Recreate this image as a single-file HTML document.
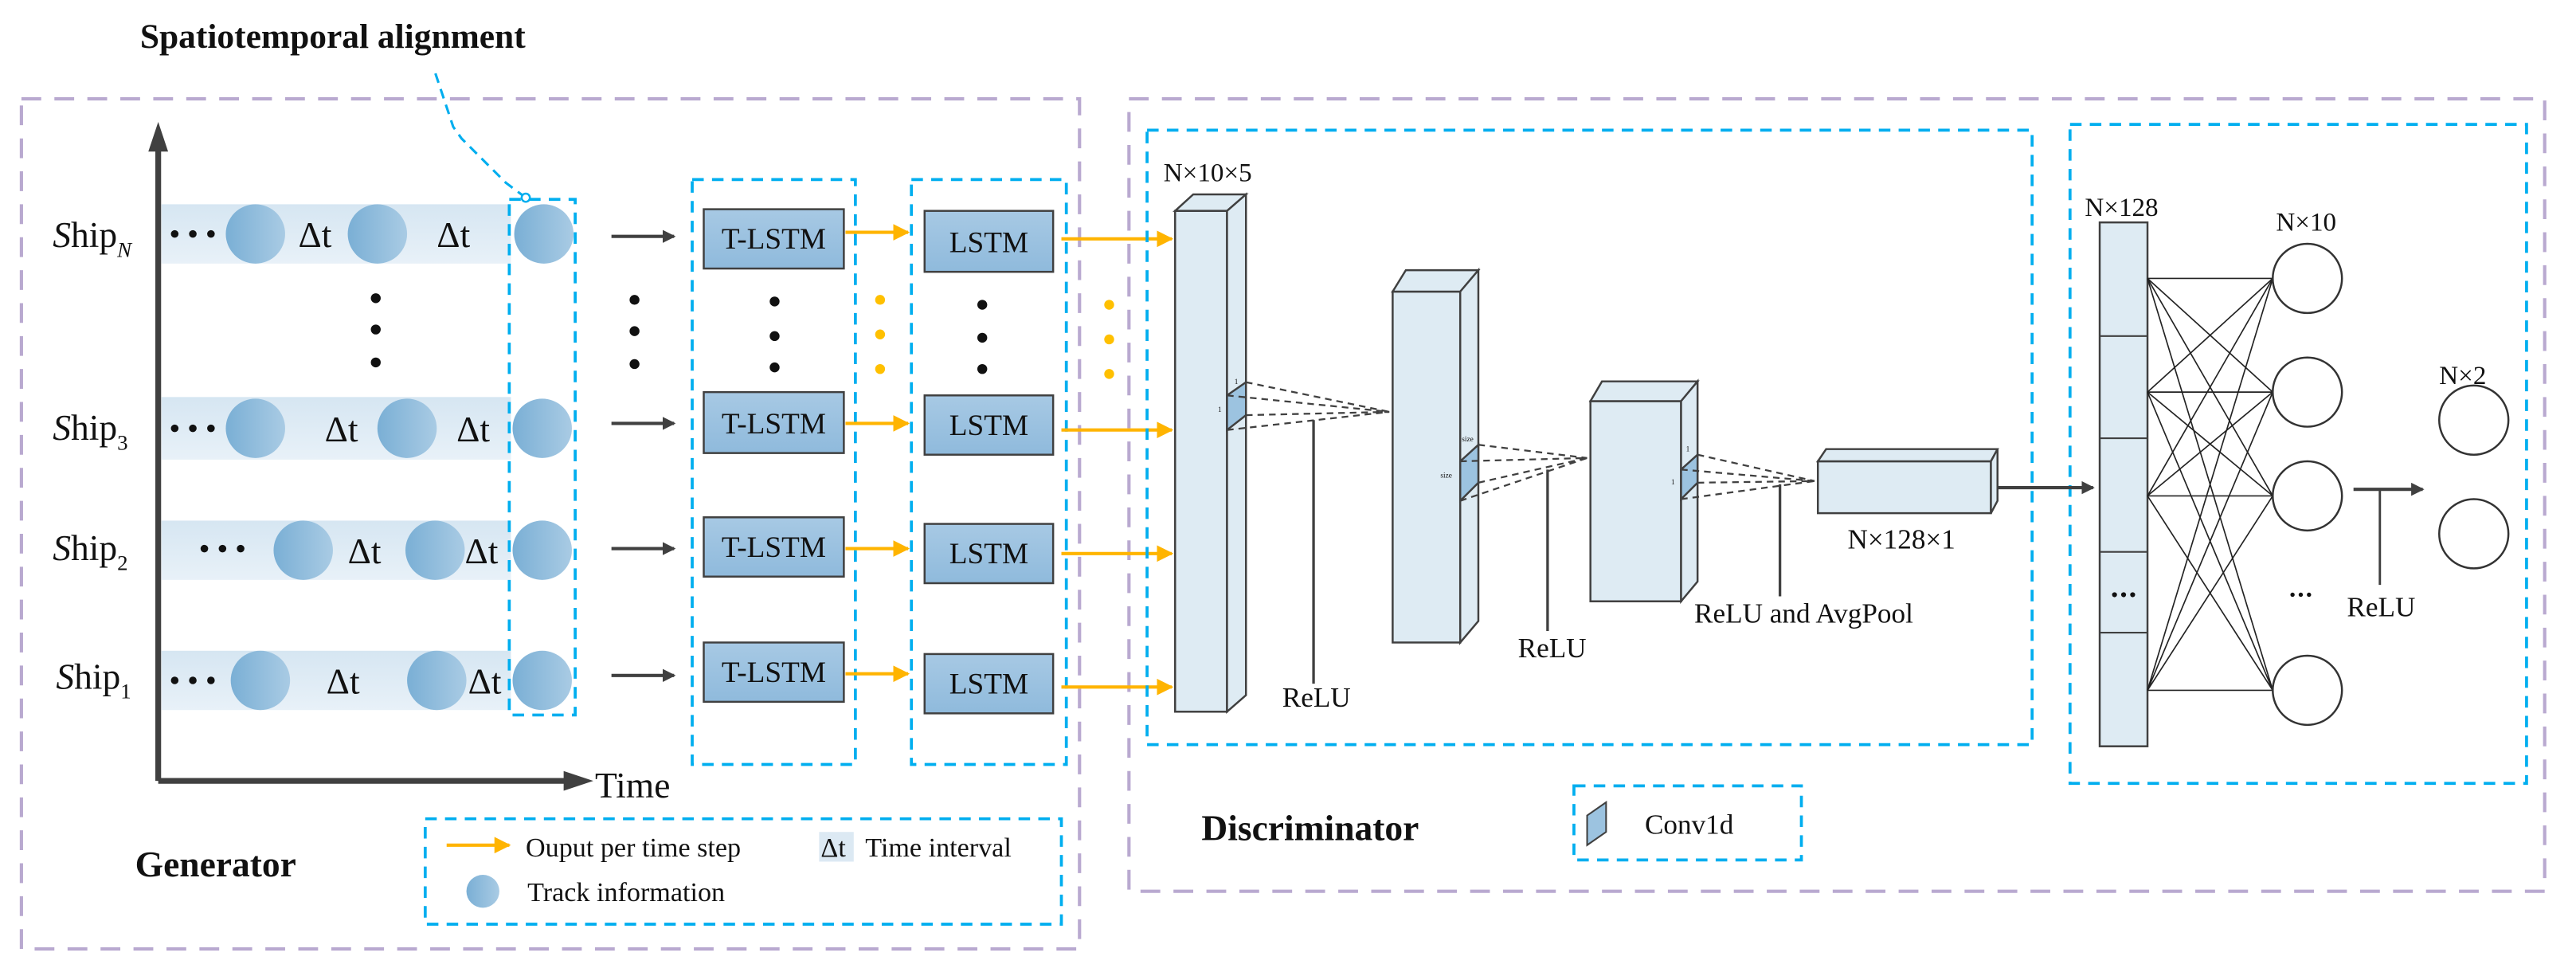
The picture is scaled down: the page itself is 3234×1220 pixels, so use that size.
<!DOCTYPE html>
<html><head><meta charset="utf-8"><style>
html,body{margin:0;padding:0;background:#fff;}
svg{display:block;}
text{font-family:"Liberation Serif",serif;fill:#111;}
</style></head><body>
<svg width="3234" height="1220" viewBox="0 0 1563 590" preserveAspectRatio="none" xmlns="http://www.w3.org/2000/svg">
<defs>
<linearGradient id="cg" x1="0" x2="1" y1="0" y2="0"><stop offset="0" stop-color="#7aafd5"/><stop offset="1" stop-color="#a9cbe4"/></linearGradient>
<linearGradient id="bg" x1="0" x2="0" y1="0" y2="1"><stop offset="0" stop-color="#a7c9e4"/><stop offset="1" stop-color="#8fbadc"/></linearGradient>
<linearGradient id="band" x1="0" x2="0" y1="0" y2="1"><stop offset="0" stop-color="#d6e6f2"/><stop offset="1" stop-color="#e8f1f8"/></linearGradient>
<marker id="ad" markerWidth="8" markerHeight="8" refX="7" refY="4" orient="auto" markerUnits="userSpaceOnUse"><path d="M0,0 L8,4 L0,8 z" fill="#404040"/></marker>
<marker id="ay" markerWidth="10" markerHeight="10" refX="9" refY="5" orient="auto" markerUnits="userSpaceOnUse"><path d="M0,0 L10,5 L0,10 z" fill="#ffb400"/></marker>
</defs>

<text x="85" y="29" font-size="21" font-weight="bold">Spatiotemporal alignment</text>

<!-- purple boxes -->
<rect x="13" y="60" width="642" height="516" fill="none" stroke="#b9a9d0" stroke-width="2" stroke-dasharray="12 8"/>
<rect x="685" y="60" width="859" height="481" fill="none" stroke="#b9a9d0" stroke-width="2" stroke-dasharray="12 8"/>

<!-- bands -->
<rect x="98" y="124" width="212" height="36" fill="url(#band)"/>
<rect x="98" y="241" width="212" height="38" fill="url(#band)"/>
<rect x="98" y="316" width="212" height="36" fill="url(#band)"/>
<rect x="98" y="395" width="212" height="36" fill="url(#band)"/>

<!-- axes -->
<line x1="96" y1="474" x2="96" y2="88" stroke="#404040" stroke-width="3.5"/>
<path d="M96,74 L90,92 L102,92 z" fill="#404040"/>
<line x1="96" y1="474" x2="346" y2="474" stroke="#404040" stroke-width="3.5"/>
<path d="M360,474 L342,468 L342,480 z" fill="#404040"/>
<text x="361" y="484" font-size="22">Time</text>

<!-- ship labels -->
<g font-size="22">
<text x="32" y="150"><tspan font-style="italic">S</tspan>hip<tspan font-size="13" dy="6" font-style="italic">N</tspan></text>
<text x="32" y="267"><tspan font-style="italic">S</tspan>hip<tspan font-size="13" dy="6">3</tspan></text>
<text x="32" y="340"><tspan font-style="italic">S</tspan>hip<tspan font-size="13" dy="6">2</tspan></text>
<text x="34" y="418"><tspan font-style="italic">S</tspan>hip<tspan font-size="13" dy="6">1</tspan></text>
</g>
<!-- dots -->
<g fill="#111">
<circle cx="106" cy="142" r="2.3"/><circle cx="117" cy="142" r="2.3"/><circle cx="128" cy="142" r="2.3"/>
<circle cx="106" cy="260" r="2.3"/><circle cx="117" cy="260" r="2.3"/><circle cx="128" cy="260" r="2.3"/>
<circle cx="124" cy="333" r="2.3"/><circle cx="135" cy="333" r="2.3"/><circle cx="146" cy="333" r="2.3"/>
<circle cx="106" cy="413" r="2.3"/><circle cx="117" cy="413" r="2.3"/><circle cx="128" cy="413" r="2.3"/>
<circle cx="228" cy="181" r="3"/><circle cx="228" cy="200" r="3"/><circle cx="228" cy="220" r="3"/>
<circle cx="385" cy="182" r="3"/><circle cx="385" cy="201" r="3"/><circle cx="385" cy="221" r="3"/>
<circle cx="470" cy="183" r="3"/><circle cx="470" cy="204" r="3"/><circle cx="470" cy="223" r="3"/>
<circle cx="596" cy="185" r="3"/><circle cx="596" cy="205" r="3"/><circle cx="596" cy="224" r="3"/>
</g>
<g fill="#ffc000">
<circle cx="534" cy="182" r="3"/><circle cx="534" cy="203" r="3"/><circle cx="534" cy="224" r="3"/>
<circle cx="673" cy="185" r="3"/><circle cx="673" cy="206" r="3"/><circle cx="673" cy="227" r="3"/>
</g>

<!-- circles -->
<g fill="url(#cg)">
<circle cx="155" cy="142" r="18"/><circle cx="229" cy="142" r="18"/><circle cx="330" cy="142" r="18"/>
<circle cx="155" cy="260" r="18"/><circle cx="247" cy="260" r="18"/><circle cx="329" cy="260" r="18"/>
<circle cx="184" cy="334" r="18"/><circle cx="264" cy="334" r="18"/><circle cx="329" cy="334" r="18"/>
<circle cx="158" cy="413" r="18"/><circle cx="265" cy="413" r="18"/><circle cx="329" cy="413" r="18"/>
</g>
<g font-size="22">
<text x="181" y="150">Δt</text><text x="265" y="150">Δt</text>
<text x="197" y="268">Δt</text><text x="277" y="268">Δt</text>
<text x="211" y="342">Δt</text><text x="282" y="342">Δt</text>
<text x="198" y="421">Δt</text><text x="284" y="421">Δt</text>
</g>

<!-- alignment box -->
<rect x="309" y="121" width="40" height="313" fill="none" stroke="#00aeef" stroke-width="1.8" stroke-dasharray="7 5"/>
<polyline points="319,120 307,111 280,84 275,77 263,41" fill="none" stroke="#00aeef" stroke-width="1.5" stroke-dasharray="6 4"/>
<circle cx="319" cy="120" r="2.5" fill="#fff" stroke="#00aeef" stroke-width="1.2"/>

<!-- dark arrows -->
<g stroke="#404040" stroke-width="2" marker-end="url(#ad)">
<line x1="371" y1="143.5" x2="409" y2="143.5"/>
<line x1="371" y1="257" x2="409" y2="257"/>
<line x1="371" y1="333" x2="409" y2="333"/>
<line x1="371" y1="410" x2="409" y2="410"/>
</g>

<!-- T-LSTM column -->
<rect x="420" y="109" width="99" height="355" fill="none" stroke="#00aeef" stroke-width="1.8" stroke-dasharray="7 5"/>
<rect x="553" y="109" width="94" height="355" fill="none" stroke="#00aeef" stroke-width="1.8" stroke-dasharray="7 5"/>
<g fill="url(#bg)" stroke="#404040" stroke-width="1.2">
<rect x="427" y="127" width="85" height="36"/><rect x="427" y="238" width="85" height="37"/>
<rect x="427" y="314" width="85" height="36"/><rect x="427" y="390" width="85" height="36"/>
<rect x="561" y="128" width="78" height="37"/><rect x="561" y="240" width="78" height="36"/>
<rect x="561" y="318" width="78" height="36"/><rect x="561" y="397" width="78" height="36"/>
</g>
<g font-size="18" text-anchor="middle">
<text x="469.5" y="151">T-LSTM</text><text x="469.5" y="263">T-LSTM</text>
<text x="469.5" y="338">T-LSTM</text><text x="469.5" y="414">T-LSTM</text>
<text x="600" y="153">LSTM</text><text x="600" y="264">LSTM</text>
<text x="600" y="342">LSTM</text><text x="600" y="421">LSTM</text>
</g>
<g stroke="#ffb400" stroke-width="2" marker-end="url(#ay)">
<line x1="513" y1="141" x2="551" y2="141"/><line x1="513" y1="257" x2="551" y2="257"/>
<line x1="513" y1="333" x2="551" y2="333"/><line x1="513" y1="409" x2="551" y2="409"/>
<line x1="644" y1="145" x2="711" y2="145"/><line x1="644" y1="261" x2="711" y2="261"/>
<line x1="644" y1="336" x2="711" y2="336"/><line x1="644" y1="417" x2="711" y2="417"/>
</g>

<!-- Generator legend -->
<rect x="258" y="497" width="386" height="64" fill="none" stroke="#00aeef" stroke-width="1.8" stroke-dasharray="7 5"/>
<line x1="271" y1="513" x2="309" y2="513" stroke="#ffb400" stroke-width="2" marker-end="url(#ay)"/>
<text x="319" y="520" font-size="16.5">Ouput per time step</text>
<rect x="497" y="505" width="21" height="18" fill="#dce9f3"/>
<text x="498" y="520" font-size="16.5">Δt</text>
<text x="525" y="520" font-size="16.5">Time interval</text>
<circle cx="293" cy="541" r="10" fill="url(#cg)"/>
<text x="320" y="547" font-size="16.5">Track information</text>
<text x="82" y="532" font-size="22" font-weight="bold">Generator</text>

<!-- Discriminator -->
<rect x="696" y="79" width="537" height="373" fill="none" stroke="#00aeef" stroke-width="1.8" stroke-dasharray="7 5"/>
<rect x="1256" y="75.5" width="277" height="400" fill="none" stroke="#00aeef" stroke-width="1.8" stroke-dasharray="7 5"/>
<text x="706" y="110" font-size="16">N×10×5</text>

<g fill="#deebf3" stroke="#404040" stroke-width="1.2">
<!-- block1 -->
<rect x="713" y="128" width="31.5" height="304"/>
<path d="M713,128 L724,118 L756,118 L744.5,128 z"/>
<path d="M744.5,128 L756,118 L756,422 L744.5,432 z"/>
<!-- block2 -->
<rect x="845" y="177" width="41" height="213"/>
<path d="M845,177 L853,164 L897,164 L886,177 z"/>
<path d="M886,177 L897,164 L897,377 L886,390 z"/>
<!-- block3 -->
<rect x="965" y="243.5" width="55" height="121.5"/>
<path d="M965,243.5 L972,231.5 L1030,231.5 L1020,243.5 z"/>
<path d="M1020,243.5 L1030,231.5 L1030,353 L1020,365 z"/>
<!-- block4 -->
<rect x="1103" y="280" width="105" height="31.5"/>
<path d="M1103,280 L1108,272.6 L1212,272.6 L1208,280 z"/>
<path d="M1208,280 L1212,272.6 L1212,304 L1208,311.5 z"/>
</g>
<g fill="#9cc3e0" stroke="#404040" stroke-width="1.2">
<path d="M744.5,240 L756,232 L756,252 L744.5,261 z"/>
<path d="M886,280 L897,270 L897,293 L886,304 z"/>
<path d="M1020,285 L1030,276 L1030,293 L1020,303 z"/>
</g>
<g stroke="#404040" stroke-width="1.1" stroke-dasharray="4 3" fill="none">
<path d="M756,232 L843,250 M744.5,240 L843,250 M756,252 L843,250 M744.5,261 L843,250"/>
<path d="M897,270 L963,278 M886,280 L963,278 M897,293 L963,278 M886,304 L963,278"/>
<path d="M1030,276 L1101,292 M1020,285 L1101,292 M1030,293 L1101,292 M1020,303 L1101,292"/>
</g>
<g font-size="4.5"><text x="749" y="233">1</text><text x="739" y="250">1</text>
<text x="887" y="268">size</text><text x="874" y="290">size</text>
<text x="1023" y="274">1</text><text x="1014" y="294">1</text></g>
<g stroke="#404040" stroke-width="1.6">
<line x1="797" y1="255" x2="797" y2="415"/>
<line x1="939" y1="285" x2="939" y2="383"/>
<line x1="1080" y1="294" x2="1080" y2="362"/>
</g>
<g font-size="17">
<text x="778" y="429">ReLU</text>
<text x="921" y="399">ReLU</text>
<text x="1028" y="378">ReLU and AvgPool</text>
<text x="1121" y="333">N×128×1</text>
</g>
<line x1="1212" y1="296" x2="1270" y2="296" stroke="#404040" stroke-width="2" marker-end="url(#ad)"/>

<!-- FC -->
<text x="1265" y="131" font-size="16" font-family="Liberation Sans Narrow, Liberation Sans, sans-serif">N×128</text>
<rect x="1274" y="135" width="29" height="318" fill="#deebf3" stroke="#404040" stroke-width="1.2"/>
<g stroke="#404040" stroke-width="1"><line x1="1274" y1="204" x2="1303" y2="204"/><line x1="1274" y1="266" x2="1303" y2="266"/><line x1="1274" y1="335" x2="1303" y2="335"/><line x1="1274" y1="384" x2="1303" y2="384"/></g>
<g fill="#111"><circle cx="1283" cy="361" r="1.5"/><circle cx="1288.5" cy="361" r="1.5"/><circle cx="1294" cy="361" r="1.5"/>
<circle cx="1391" cy="361" r="1.3"/><circle cx="1396" cy="361" r="1.3"/><circle cx="1401" cy="361" r="1.3"/></g>
<g stroke="#222" stroke-width="0.8">
<line x1="1303" y1="169" x2="1379" y2="169"/><line x1="1303" y1="169" x2="1379" y2="238"/><line x1="1303" y1="169" x2="1379" y2="301"/><line x1="1303" y1="169" x2="1379" y2="419"/>
<line x1="1303" y1="238" x2="1379" y2="169"/><line x1="1303" y1="238" x2="1379" y2="238"/><line x1="1303" y1="238" x2="1379" y2="301"/><line x1="1303" y1="238" x2="1379" y2="419"/>
<line x1="1303" y1="301" x2="1379" y2="169"/><line x1="1303" y1="301" x2="1379" y2="238"/><line x1="1303" y1="301" x2="1379" y2="301"/><line x1="1303" y1="301" x2="1379" y2="419"/>
<line x1="1303" y1="419" x2="1379" y2="169"/><line x1="1303" y1="419" x2="1379" y2="238"/><line x1="1303" y1="419" x2="1379" y2="301"/><line x1="1303" y1="419" x2="1379" y2="419"/>
</g>
<g fill="#fff" stroke="#333" stroke-width="1.2">
<circle cx="1400" cy="169" r="21"/><circle cx="1400" cy="238" r="21"/><circle cx="1400" cy="301" r="21"/><circle cx="1400" cy="419" r="21"/>
<circle cx="1501" cy="255" r="21"/><circle cx="1501" cy="324" r="21"/>
</g>
<text x="1381" y="140" font-size="16" font-family="Liberation Sans Narrow, Liberation Sans, sans-serif">N×10</text>
<text x="1480" y="233" font-size="16" font-family="Liberation Sans Narrow, Liberation Sans, sans-serif">N×2</text>
<line x1="1428" y1="297" x2="1470" y2="297" stroke="#404040" stroke-width="2" marker-end="url(#ad)"/>
<line x1="1444" y1="297" x2="1444" y2="355" stroke="#404040" stroke-width="1.4"/>
<text x="1424" y="374" font-size="17">ReLU</text>

<!-- Disc legend -->
<rect x="955" y="477" width="138" height="45" fill="none" stroke="#00aeef" stroke-width="1.8" stroke-dasharray="7 5"/>
<path d="M963,495 L974.5,487 L974.5,505 L963,513 z" fill="#9cc3e0" stroke="#404040" stroke-width="1"/>
<text x="998" y="506" font-size="17">Conv1d</text>
<text x="729" y="510" font-size="22" font-weight="bold">Discriminator</text>
</svg>
</body></html>
